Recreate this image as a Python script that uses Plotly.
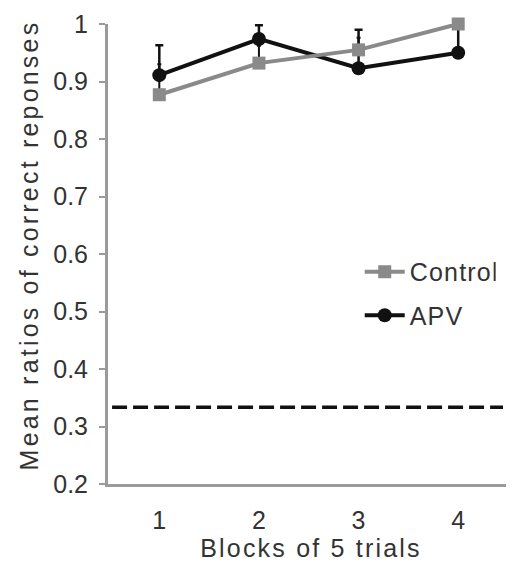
import plotly.graph_objects as go

blocks = [1, 2, 3, 4]
control = [0.877, 0.932, 0.955, 1.0]
control_err = [0.053, 0.03, 0.021, 0.0]
apv = [0.911, 0.974, 0.923, 0.950]
apv_err = [0.052, 0.024, 0.067, 0.05]
chance = 1 / 3
y_ticks = [0.2, 0.3, 0.4, 0.5, 0.6, 0.7, 0.8, 0.9, 1]
y_tick_text = ["0.2", "0.3", "0.4", "0.5", "0.6", "0.7", "0.8", "0.9", "1"]

FONT = "Liberation Sans, Arial, sans-serif"
GRAY = "#8a8a8a"
AX = "#9a9a9a"
TXT = "#333333"

fig = go.Figure()

fig.add_trace(go.Scatter(
    x=blocks, y=apv, name="APV", mode="lines+markers",
    legendgroup="b", legendrank=2,
    line=dict(color="#111111", width=4),
    marker=dict(symbol="circle", size=14, color="#111111"),
    error_y=dict(type="data", symmetric=False, array=apv_err,
                 arrayminus=[0, 0, 0, 0], color="#111111", thickness=2.5, width=4),
    cliponaxis=False,
))
fig.add_trace(go.Scatter(
    x=blocks, y=control, name="Control", mode="lines+markers",
    legendgroup="a", legendrank=1,
    line=dict(color=GRAY, width=4),
    marker=dict(symbol="square", size=13, color=GRAY),
    error_y=dict(type="data", symmetric=False, array=control_err,
                 arrayminus=[0, 0, 0, 0], color="#111111", thickness=2, width=2),
    cliponaxis=False,
))

fig.add_shape(type="line", xref="paper", yref="y", x0=0.01, x1=0.973,
              y0=chance, y1=chance,
              line=dict(color="#111111", width=3.5, dash="15px,6px"))

fig.update_layout(
    width=506, height=561,
    margin=dict(l=100, r=0, t=16, b=85),
    paper_bgcolor="white", plot_bgcolor="white",
    font=dict(family=FONT, size=25, color=TXT),
    showlegend=True,
    legend=dict(x=0.62, y=0.511, xanchor="left", yanchor="top",
                bgcolor="rgba(0,0,0,0)", tracegroupgap=8, itemwidth=40,
                font=dict(size=25, color=TXT)),
    xaxis=dict(range=[0.485, 4.56], tickvals=blocks, ticktext=[str(b) for b in blocks],
               showgrid=False, zeroline=False, showline=True, linecolor=AX, linewidth=3,
               ticks="outside", ticklen=12, tickcolor="rgba(0,0,0,0)",
               title=dict(text="Blocks of 5 trials", standoff=6,
                          font=dict(size=25, color=TXT))),
    yaxis=dict(range=[0.2, 1.0], tickvals=y_ticks, ticktext=y_tick_text,
               showgrid=False, zeroline=False, showline=True, linecolor=AX, linewidth=3,
               ticks="outside", ticklen=6, tickwidth=2, tickcolor=AX,
               ticklabelstandoff=6,
               title=dict(text="Mean ratios of correct reponses", standoff=8,
                          font=dict(size=25, color=TXT))),
)

post = """
var gd = document.getElementById('{plot_id}');
function spacing() {
  gd.querySelectorAll('.ytitle').forEach(function(e){
    e.style.letterSpacing='3.2px';
    var x = parseFloat(e.getAttribute('x'));
    if (!isNaN(x) && !e.dataset.shifted) { e.setAttribute('x', x + 9); e.dataset.shifted = '1'; }
  });
  gd.querySelectorAll('.xtitle').forEach(function(e){ e.style.letterSpacing='2.2px'; });
  gd.querySelectorAll('.legendtext').forEach(function(e){ e.style.letterSpacing='1.2px'; });
}
spacing();
"""

fig.write_html("out.html", post_script=post)
